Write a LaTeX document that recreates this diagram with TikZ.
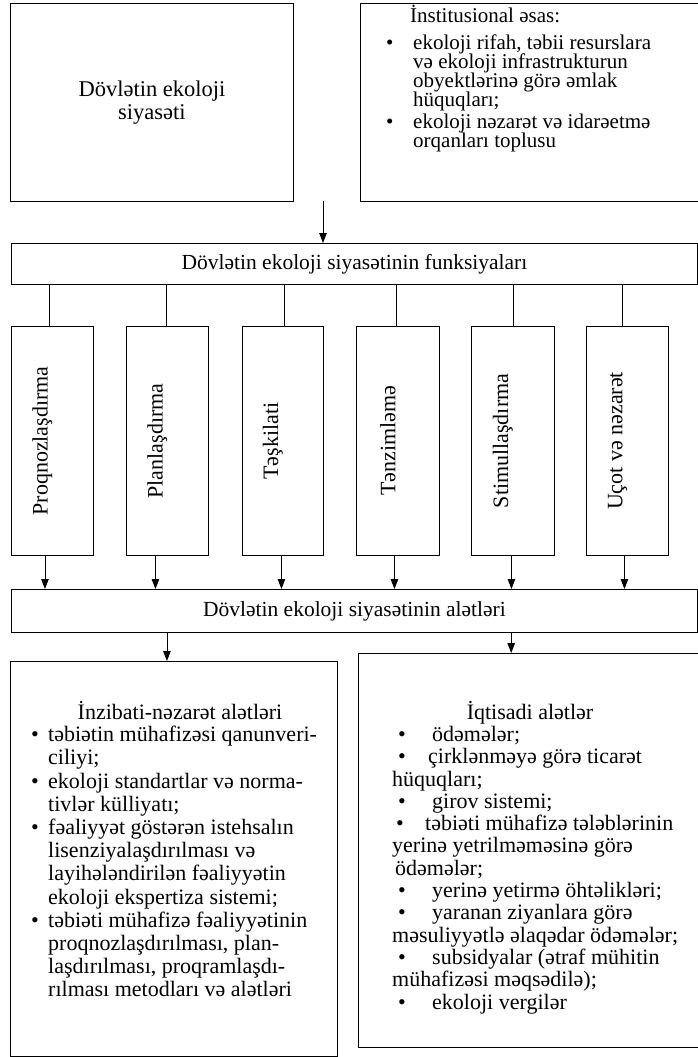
\documentclass[tikz,border=0pt]{standalone}
\usepackage{fontspec}
\setmainfont{Liberation Serif}
\usetikzlibrary{arrows.meta}
\newcommand\bul[1]{\makebox[#1][l]{\textbullet}}
\newcommand\tightls{\lineskiplimit=-100pt\relax}
\newcommand\ftop{\fontsize{21}{19}\selectfont\tightls}
\newcommand\fpol{\fontsize{22.5}{22.5}\selectfont}
\newcommand\fbot{\fontsize{22}{23.2}\selectfont\tightls}
\newcommand\fbotr{\fontsize{22}{22.3}\selectfont\tightls}
\begin{document}
\begin{tikzpicture}[x=1pt,y=-1pt,
  bx/.style={draw, line width=0.9pt, inner sep=0pt, anchor=north west},
  arr/.style={line width=0.9pt, -{Triangle[length=10pt,width=7.5pt]}},
  ln/.style={line width=0.9pt},
  ft/.style={font=\ftop},
  fm/.style={font=\fontsize{21.5}{23}\selectfont},
  vt/.style={rotate=90, font=\fontsize{22}{24}\selectfont, inner sep=0pt},
  txt/.style={inner sep=0pt, align=left},
]
\useasboundingbox (0,0) rectangle (698,1057);
\fill[white] (0,0) rectangle (698,1057);

% top boxes
\node[bx, minimum width=283pt, minimum height=198pt, align=center, font=\fpol] (pol) at (10,3) {Dövlətin ekoloji\\siyasəti};
\node[bx, minimum width=337.5pt, minimum height=198pt] (inst) at (360,3) {};
\node[txt, ft, anchor=north west] (instt) at (386,5) {%
\hspace*{24pt}İnstitusional əsas:\\[8pt]
\bul{27pt}ekoloji rifah, təbii resurslara\\
\hspace*{27pt}və ekoloji infrastrukturun\\
\hspace*{27pt}obyektlərinə görə əmlak\\
\hspace*{27pt}hüquqları;\\[3pt]
\bul{27pt}ekoloji nəzarət və idarəetmə\\
\hspace*{27pt}orqanları toplusu};

\coordinate (j0) at (323,201);

% functions
\node[bx, minimum width=686pt, minimum height=41pt, fm] (fun) at (11,243) {Dövlətin ekoloji siyasətinin funksiyaları};
\draw[arr] (j0) -- (j0 |- fun.north);

\node[bx, minimum width=82pt, minimum height=229pt] (f1) at (11,326) {};
\node[bx, minimum width=82pt, minimum height=229pt] (f2) at (126,326) {};
\node[bx, minimum width=81pt, minimum height=229pt] (f3) at (242,326) {};
\node[bx, minimum width=83pt, minimum height=229pt] (f4) at (356,326) {};
\node[bx, minimum width=83pt, minimum height=229pt] (f5) at (471,326) {};
\node[bx, minimum width=82pt, minimum height=229pt] (f6) at (586,326) {};

\node[vt] (t1) at ([xshift=-10pt]f1.center) {Proqnozlaşdırma};
\node[vt] (t2) at ([xshift=-10pt]f2.center) {Planlaşdırma};
\node[vt] (t3) at ([xshift=-10pt]f3.center) {Təşkilati};
\node[vt] (t4) at ([xshift=-10pt]f4.center) {Tənzimləmə};
\node[vt] (t5) at ([xshift=-10pt]f5.center) {Stimullaşdırma};
\node[vt] (t6) at ([xshift=-10pt]f6.center) {Uçot və nəzarət};

\foreach \b/\d in {f1/-3, f2/-1, f3/1.5, f4/-1.5, f5/0.5, f6/-5}
  \draw[ln] ([xshift=\d pt]\b.north) -- ([xshift=\d pt]\b.north |- fun.south);

% tools
\node[bx, minimum width=686pt, minimum height=43pt, fm] (tools) at (11,589) {Dövlətin ekoloji siyasətinin alətləri};
\foreach \b/\d in {f1/-7.5, f2/-12, f3/-1.5, f4/-3.5, f5/-1.5, f6/-3}
  \draw[arr] ([xshift=\d pt]\b.south) -- ([xshift=\d pt]\b.south |- tools.north);

% bottom boxes
\node[bx, minimum width=327pt, minimum height=395pt] (adm) at (10,661) {};
\node[bx, minimum width=339.5pt, minimum height=394pt] (eco) at (358,653) {};
\draw[arr] ([xshift=-7pt]adm.north |- tools.south) -- ([xshift=-7pt]adm.north);
\draw[arr] ([xshift=-17pt]eco.north |- tools.south) -- ([xshift=-17pt]eco.north);

\node[inner sep=0pt, font=\fbot, anchor=base] (admt) at (180,719) {İnzibati-nəzarət alətləri};
\node[txt, font=\fbot, anchor=north west] (adml) at (31,726) {%
\bul{17pt}təbiətin mühafizəsi qanunveri-\\
\hspace*{17pt}ciliyi;\\
\bul{17pt}ekoloji standartlar və norma-\\
\hspace*{17pt}tivlər külliyatı;\\
\bul{17pt}fəaliyyət göstərən istehsalın\\
\hspace*{17pt}lisenziyalaşdırılması və\\
\hspace*{17pt}layihələndirilən fəaliyyətin\\
\hspace*{17pt}ekoloji ekspertiza sistemi;\\
\bul{17pt}təbiəti mühafizə fəaliyyətinin\\
\hspace*{17pt}proqnozlaşdırılması, plan-\\
\hspace*{17pt}laşdırılması, proqramlaşdı-\\
\hspace*{17pt}rılması metodları və alətləri};

\node[inner sep=0pt, font=\fbotr, anchor=base] (ecot) at (530,719) {İqtisadi alətlər};
\node[txt, font=\fbotr, anchor=north west] (ecol) at (392,726) {%
\hspace*{6pt}\bul{34pt}ödəmələr;\\
\hspace*{6pt}\bul{30pt}çirklənməyə görə ticarət\\
hüquqları;\\
\hspace*{6pt}\bul{34pt}girov sistemi;\\
\hspace*{4pt}\bul{29pt}təbiəti mühafizə tələblərinin\\
yerinə yetrilməməsinə görə\\
\hspace*{3pt}ödəmələr;\\
\hspace*{6pt}\bul{34pt}yerinə yetirmə öhtəlikləri;\\
\hspace*{6pt}\bul{34pt}yaranan ziyanlara görə\\
məsuliyyətlə əlaqədar ödəmələr;\\
\hspace*{6pt}\bul{34pt}subsidyalar (ətraf mühitin\\
mühafizəsi məqsədilə);\\
\hspace*{6pt}\bul{34pt}ekoloji vergilər};
\end{tikzpicture}
\end{document}
